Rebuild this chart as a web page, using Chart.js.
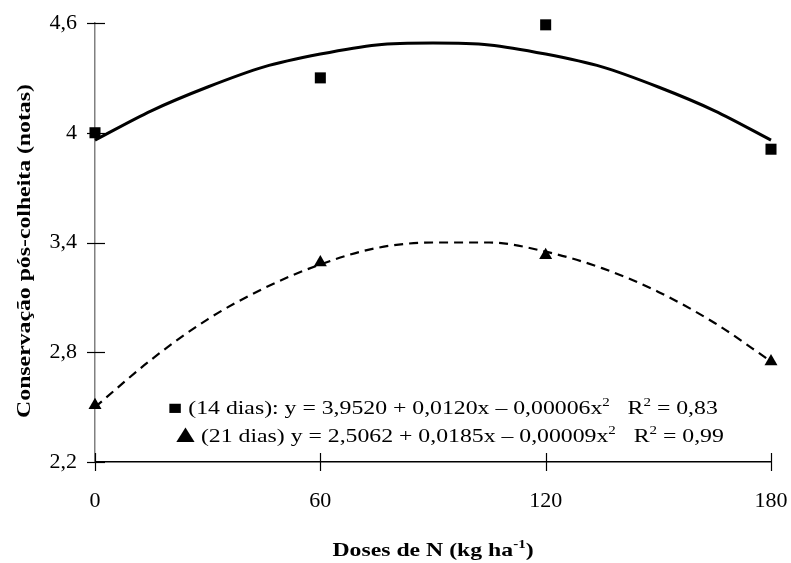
<!DOCTYPE html>
<html>
<head>
<meta charset="utf-8">
<script src="https://cdn.jsdelivr.net/npm/chart.js@4.4.0/dist/chart.umd.min.js"></script>
<style>
  html, body { margin: 0; padding: 0; background: #fff; }
  #wrap { width: 791px; height: 563px; }
</style>
</head>
<body>
<div id="wrap"><canvas id="chart" width="791" height="563"></canvas></div>
<script>
// doses de N (kg/ha)
var doses = [0, 60, 120, 180];
// observed marks
var obs14 = [4.00, 4.30, 4.59, 3.91];   // squares, 14 dias
var obs21 = [2.51, 3.29, 3.33, 2.75];   // triangles, 21 dias

// fitted curves
var curveX   = [0, 15, 30, 45, 60, 75, 90, 105, 120, 135, 150, 165, 180];
var curve14  = [3.96, 4.12, 4.25, 4.36, 4.43, 4.48, 4.49, 4.48, 4.43, 4.36, 4.25, 4.12, 3.96];
var curve21  = [2.50, 2.76, 2.98, 3.15, 3.28, 3.37, 3.40, 3.40, 3.35, 3.26, 3.13, 2.96, 2.75];

var xTicks = [0, 60, 120, 180];
var yTicks = [2.2, 2.8, 3.4, 4.0, 4.6];

// text runs: [text, superscript?, size factor]
var eq14 = [["\u25A0 (14 dias): y = 3,9520 + 0,0120x \u2013 0,00006x", 0], ["2", 1], ["   R", 0], ["2", 1], [" = 0,83", 0]];
var eq21 = [["\u25B2", 0, 1.3], ["(21 dias) y = 2,5062 + 0,0185x \u2013 0,00009x", 0], ["2", 1], ["   R", 0], ["2", 1], [" = 0,99", 0]];

function pairs(xs, ys) {
  var out = [];
  for (var i = 0; i < xs.length; i++) out.push({x: xs[i], y: ys[i]});
  return out;
}
function fmt(v) {
  return Number(v.toFixed(1)).toString().replace('.', ',');
}

var serif = "'Liberation Serif', 'Times New Roman', serif";
var stretch = 1.25; // the original's text is a bit wide

function runFont(r, size, bold) {
  var s = r[1] ? Math.round(size * 0.62) : Math.round(size * (r[2] || 1));
  return (bold ? "bold " : "") + s + "px " + serif;
}
// draws a run of text pieces, some raised as superscripts
function drawRuns(ctx, runs, x, y, size, bold) {
  ctx.save();
  ctx.translate(x, y);
  ctx.scale(stretch, 1);
  var cx = 0;
  runs.forEach(function(r) {
    ctx.font = runFont(r, size, bold);
    ctx.fillText(r[0], cx, r[1] ? -size * 0.42 : 0);
    cx += ctx.measureText(r[0]).width;
  });
  ctx.restore();
}
function runsWidth(ctx, runs, size, bold) {
  var t = 0;
  runs.forEach(function(r) {
    ctx.font = runFont(r, size, bold);
    t += ctx.measureText(r[0]).width;
  });
  return t * stretch;
}

var decorPlugin = {
  id: 'decor',
  afterDraw: function(chart) {
    var ctx = chart.ctx;
    var xs = chart.scales.x, ys = chart.scales.y;
    ctx.save();
    // crossing tick marks
    ctx.strokeStyle = "#000";
    ctx.lineWidth = 1.2;
    xTicks.forEach(function(v) {
      var px = Math.round(xs.getPixelForValue(v)) + 0.5;
      ctx.beginPath();
      ctx.moveTo(px, ys.bottom - 9);
      ctx.lineTo(px, ys.bottom + 9);
      ctx.stroke();
    });
    yTicks.forEach(function(v) {
      var py = Math.round(ys.getPixelForValue(v)) + 0.5;
      ctx.beginPath();
      ctx.moveTo(xs.left - 8, py);
      ctx.lineTo(xs.left + 10, py);
      ctx.stroke();
    });

    ctx.fillStyle = "#000";
    ctx.textBaseline = "alphabetic";
    ctx.textAlign = "left";
    // regression equations
    drawRuns(ctx, eq14, 168, 414, 19, false);
    drawRuns(ctx, eq21, 170, 442, 19, false);

    // y axis title
    ctx.save();
    ctx.translate(30, 251);
    ctx.rotate(-Math.PI / 2);
    var yt = [["Conserva\u00e7\u00e3o p\u00f3s-colheita (notas)", 0]];
    drawRuns(ctx, yt, -runsWidth(ctx, yt, 19, true) / 2, 0, 19, true);
    ctx.restore();

    // x axis title with superscript
    var xt = [["Doses de N (kg ha", 0], ["-1", 1], [")", 0]];
    drawRuns(ctx, xt, (xs.left + xs.right) / 2 - runsWidth(ctx, xt, 19, true) / 2, 556, 19, true);
    ctx.restore();
  }
};

new Chart(document.getElementById('chart'), {
  type: 'line',
  data: {
    datasets: [
      {
        label: '14 dias (ajuste)',
        data: pairs(curveX, curve14),
        borderColor: '#000',
        borderWidth: 3,
        pointRadius: 0,
        cubicInterpolationMode: 'monotone',
        clip: false
      },
      {
        label: '21 dias (ajuste)',
        data: pairs(curveX, curve21),
        borderColor: '#000',
        borderWidth: 2.2,
        borderDash: [9, 6],
        pointRadius: 0,
        cubicInterpolationMode: 'monotone',
        clip: false
      },
      {
        type: 'scatter',
        label: '14 dias',
        data: pairs(doses, obs14),
        pointStyle: 'rect',
        pointRadius: 7.8,
        backgroundColor: '#000',
        borderColor: '#000',
        borderWidth: 0,
        clip: false
      },
      {
        type: 'scatter',
        label: '21 dias',
        data: pairs(doses, obs21),
        pointStyle: 'triangle',
        pointRadius: 7.5,
        backgroundColor: '#000',
        borderColor: '#000',
        borderWidth: 0,
        clip: false
      }
    ]
  },
  options: {
    responsive: false,
    animation: false,
    events: [],
    layout: { padding: { top: 23, right: 20, left: 0, bottom: 0 } },
    plugins: {
      legend: { display: false },
      tooltip: { enabled: false }
    },
    scales: {
      x: {
        type: 'linear',
        min: 0,
        max: 180,
        afterBuildTicks: function(scale) {
          scale.ticks = xTicks.map(function(v) { return {value: v}; });
        },
        afterFit: function(scale) {
          scale.height = 101;
          scale.paddingLeft = 0;
          scale.paddingRight = 0;
        },
        grid: { display: true, drawOnChartArea: false, drawTicks: false },
        border: { display: true, color: '#000', width: 1.5 },
        ticks: {
          padding: 26,
          color: '#000',
          font: { family: serif, size: 22 },
          maxRotation: 0
        }
      },
      y: {
        type: 'linear',
        min: 2.2,
        max: 4.6,
        afterBuildTicks: function(scale) {
          scale.ticks = yTicks.map(function(v) { return {value: v}; });
        },
        afterFit: function(scale) {
          scale.width = 95;
          scale.paddingTop = 0;
          scale.paddingBottom = 0;
        },
        grid: { display: true, drawOnChartArea: false, drawTicks: false },
        border: { display: true, color: '#808080', width: 1.5 },
        ticks: {
          padding: 18,
          color: '#000',
          font: { family: serif, size: 22 },
          callback: function(v) { return fmt(v); }
        }
      }
    }
  },
  plugins: [decorPlugin]
});
</script>
</body>
</html>
